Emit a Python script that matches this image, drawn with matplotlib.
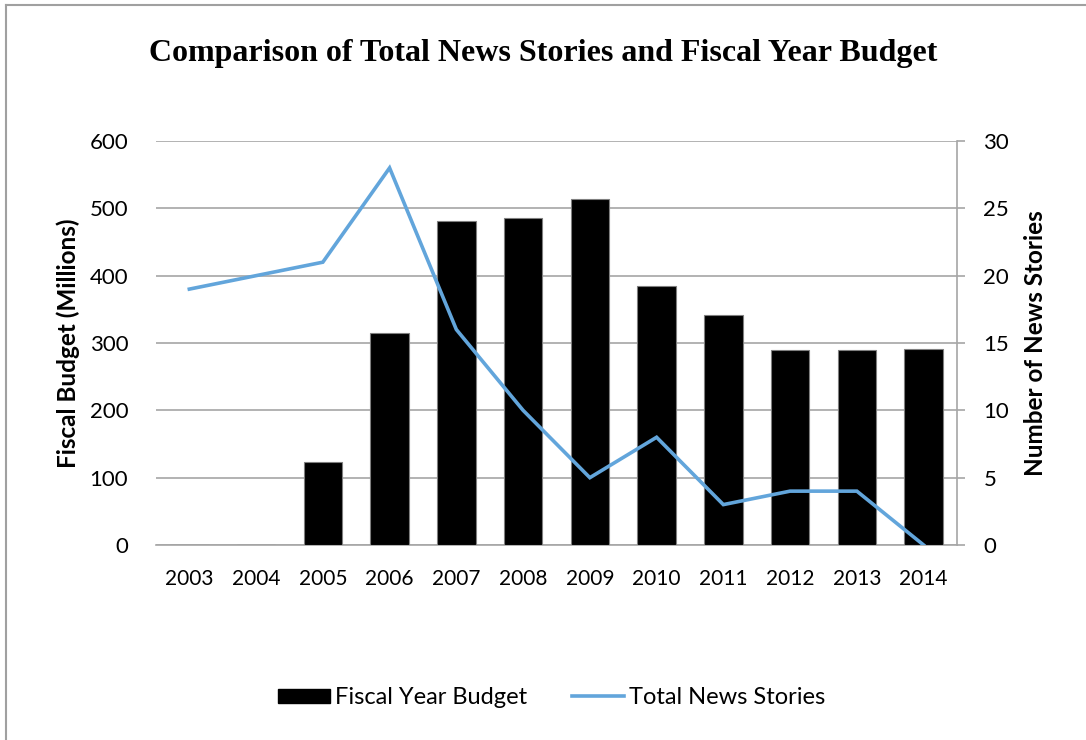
import matplotlib.pyplot as plt
from matplotlib.lines import Line2D

years = ["2003", "2004", "2005", "2006", "2007", "2008", "2009",
         "2010", "2011", "2012", "2013", "2014"]
budget = [0, 0, 123, 315, 481, 485, 514, 384, 342, 290, 290, 291]
stories = [19, 20, 21, 28, 16, 10, 5, 8, 3, 4, 4, 0]

budget_ticks = [0, 100, 200, 300, 400, 500, 600]
story_ticks = [0, 5, 10, 15, 20, 25, 30]

BLUE = "#62a5db"
GRID = "#a6a6a6"
plt.rcParams["font.family"] = ["Lato", "DejaVu Sans"]

fig = plt.figure(figsize=(10.86, 7.4), dpi=100)
ax = fig.add_axes([0.1436, 0.2635, 0.7376, 0.546])
ax2 = ax.twinx()

x = list(range(len(years)))
ax.bar(x, budget, width=0.575, color="black", edgecolor="#7f7f7f",
       linewidth=0.8, zorder=3, label="Fiscal Year Budget")
ax2.plot(x, stories, color=BLUE, linewidth=2.6, solid_joinstyle="miter",
         zorder=4, label="Total News Stories")

ax.set_xlim(-0.5, len(years) - 0.5)
ax.set_ylim(0, 600)
ax2.set_ylim(0, 30)
ax.set_yticks(budget_ticks)
ax2.set_yticks(story_ticks)
ax.set_xticks(x)
ax.set_xticklabels(years)

ax.grid(axis="y", color=GRID, linewidth=1.2, zorder=0)
ax.set_axisbelow(True)
for a in (ax, ax2):
    for side in ("top", "left", "right", "bottom"):
        a.spines[side].set_visible(False)
ax.spines["bottom"].set_visible(True)
ax.spines["bottom"].set_color(GRID)
ax.spines["bottom"].set_linewidth(1.2)
ax2.spines["right"].set_visible(True)
ax2.spines["right"].set_color(GRID)
ax2.spines["right"].set_linewidth(1.2)

ax.tick_params(axis="y", length=0, pad=20, labelsize=16)
ax.tick_params(axis="x", length=0, pad=17, labelsize=15)
ax2.tick_params(axis="y", length=6, width=1.2, color=GRID, pad=13,
                labelsize=16)

ax.set_ylabel("Fiscal Budget (Millions)", fontsize=17.5, fontweight="bold",
              labelpad=7)
ax2.set_ylabel("Number of News Stories", fontsize=17.5, fontweight="bold",
               labelpad=11)

fig.text(0.5, 0.928, "Comparison of Total News Stories and Fiscal Year Budget",
         ha="center", va="center", fontsize=23, fontweight="bold",
         family="Liberation Serif")

handles = [plt.Rectangle((0, 0), 1, 1, color="black"),
           Line2D([], [], color=BLUE, linewidth=2.6)]
fig.legend(handles, ["Fiscal Year Budget", "Total News Stories"],
           loc="center", bbox_to_anchor=(0.508, 0.057), ncol=2, frameon=False,
           fontsize=17, handlelength=2.2, handleheight=0.6,
           handletextpad=0.2, columnspacing=1.9)

# outer chart frame (top and left edges)
fig.add_artist(Line2D([0.0055, 0.0055], [0, 0.9935], color="#a0a0a0",
                      linewidth=1.5, transform=fig.transFigure))
fig.add_artist(Line2D([0.0055, 1.0], [0.9935, 0.9935], color="#a0a0a0",
                      linewidth=1.5, transform=fig.transFigure))

fig.savefig("out.png", dpi=100)
